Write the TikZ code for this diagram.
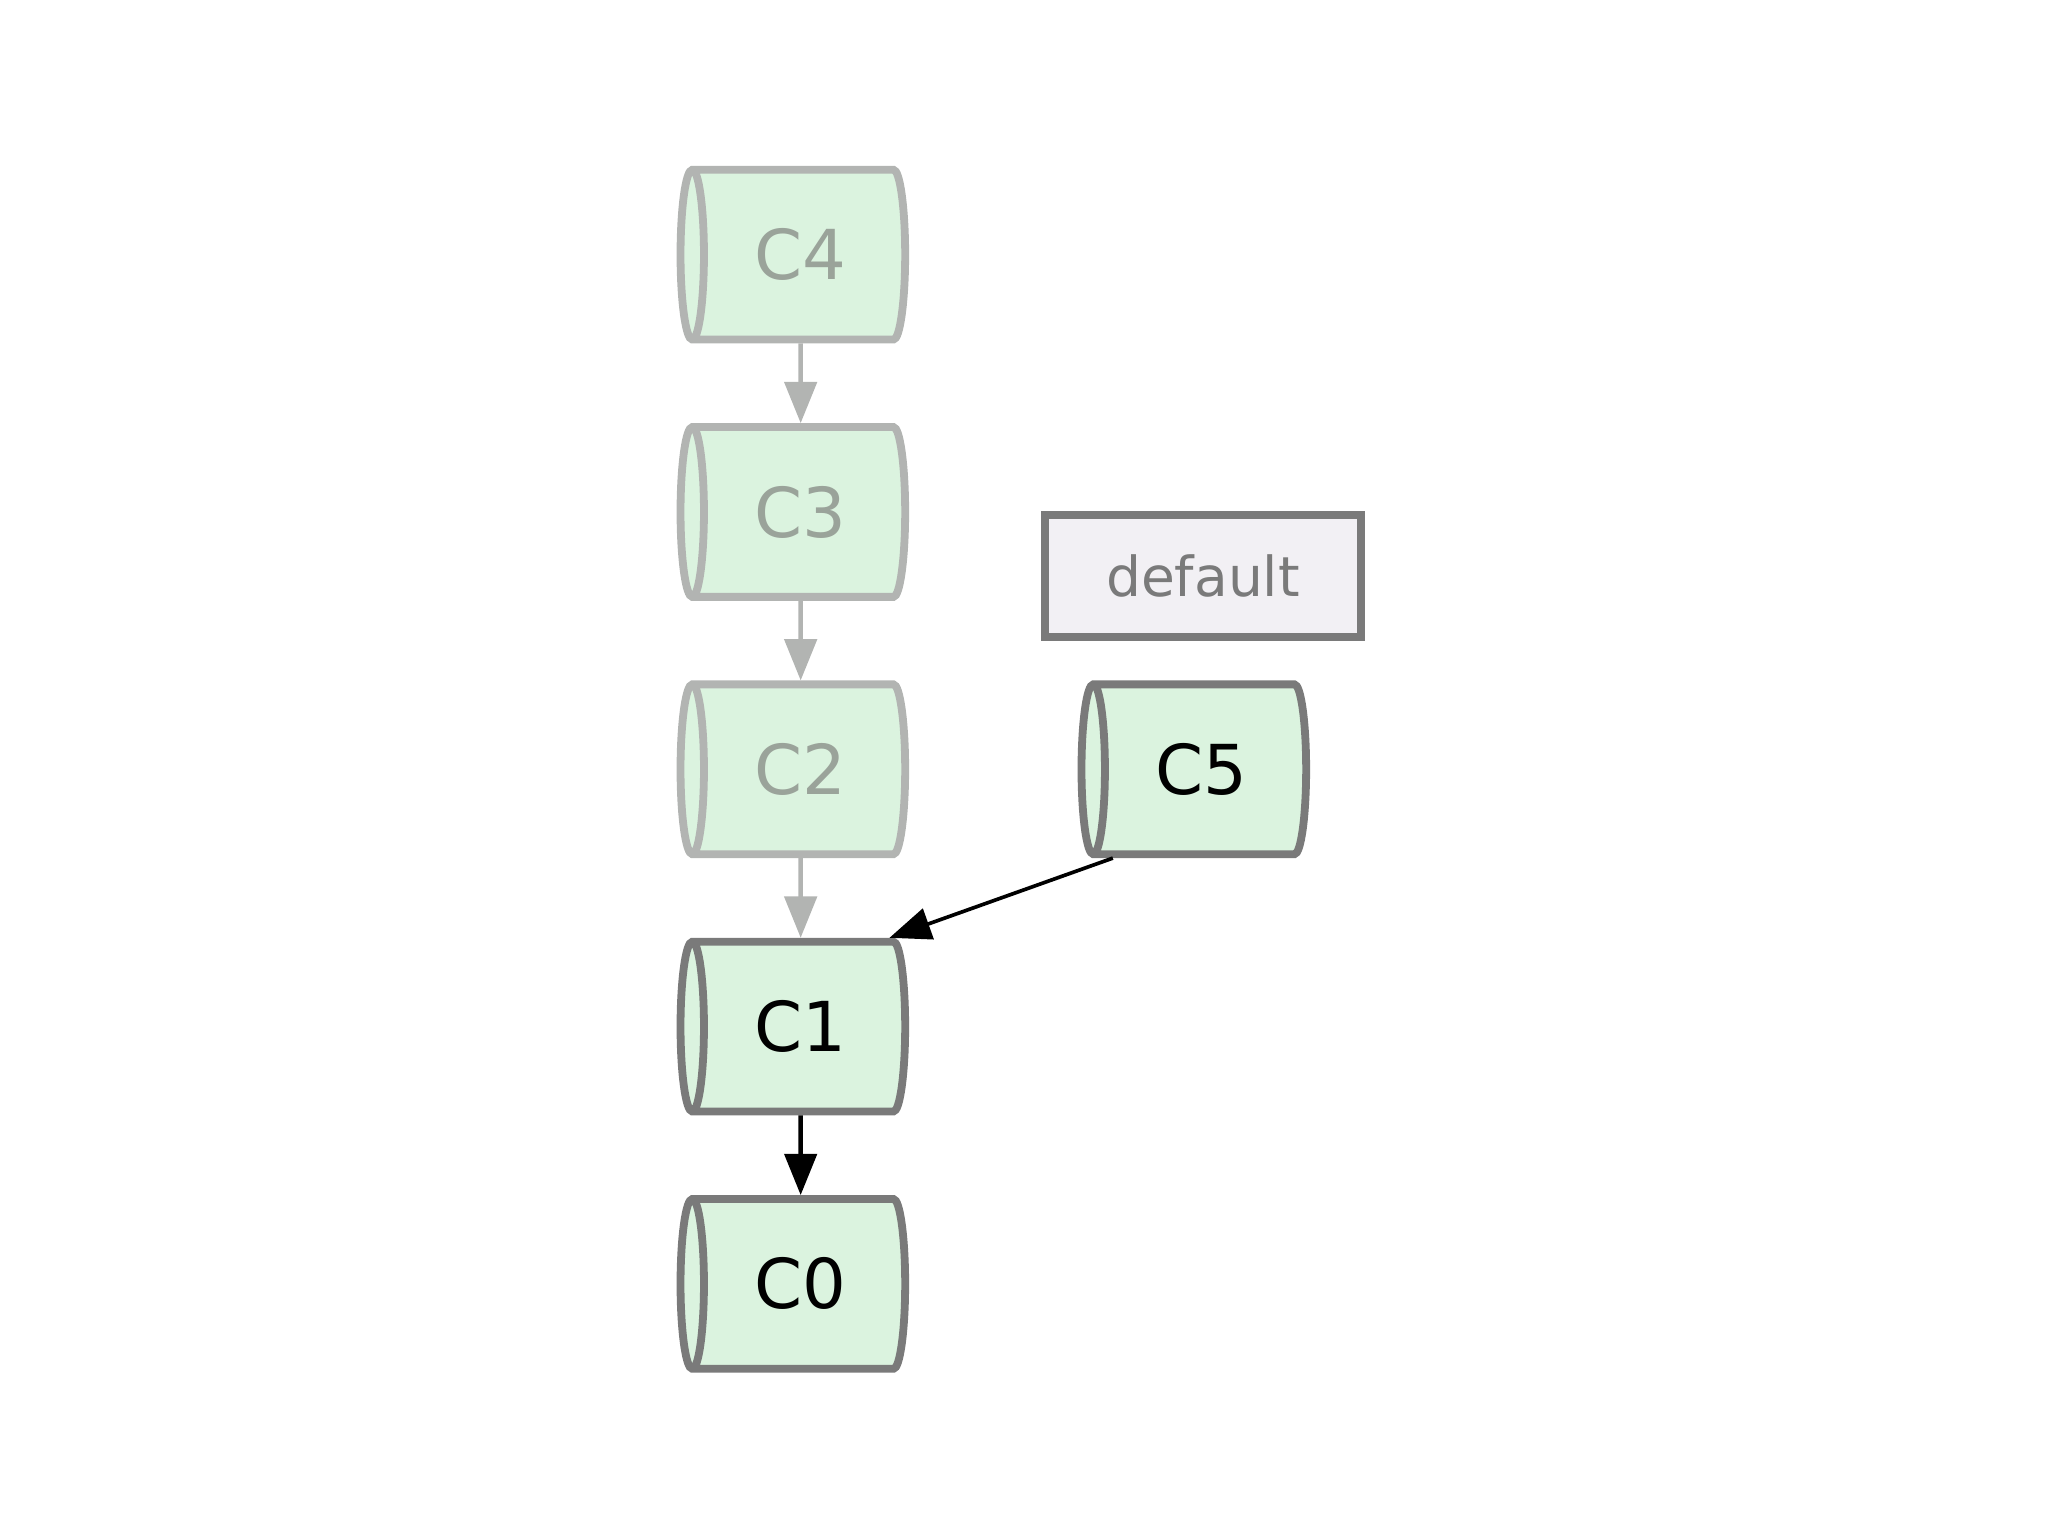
\documentclass[tikz,border=0pt]{standalone}
\usepackage{fontspec}
\setmainfont{DejaVu Sans}
\usetikzlibrary{shapes.geometric, arrows.meta}
\definecolor{commitfill}{HTML}{DBF3DF}
\definecolor{darkline}{HTML}{7A7A7A}
\definecolor{lightline}{HTML}{B2B4B2}
\definecolor{fadetext}{HTML}{9AA39A}
\definecolor{branchfill}{HTML}{F2F0F4}

\begin{document}
\begin{tikzpicture}
% Define styles
\tikzstyle{commit} = [cylinder, shape border rotate=180, shape aspect=0.45, draw=darkline, line width=1.7pt, fill=commitfill, minimum width=1.3cm, minimum height=1.72cm, font=\fontsize{15}{18}\selectfont, inner sep=0pt]
\tikzstyle{faded} = [commit, draw=lightline, text=fadetext]
\tikzstyle{branch} = [rectangle, draw=darkline, line width=1.7pt, fill=branchfill, minimum width=2.42cm, minimum height=0.93cm, text=darkline, font=\fontsize{12}{14}\selectfont]
\useasboundingbox (0,0) rectangle (15.68,-11.76);
% Define nodes
\node[faded] (c4) at (6.13,-1.95) {C4};
\node[faded] (c3) at (6.13,-3.92) {C3};
\node[faded] (c2) at (6.13,-5.89) {C2};
\node[commit] (c1) at (6.13,-7.86) {C1};
\node[commit] (c0) at (6.13,-9.83) {C0};
\node[commit] (c5) at (9.20,-5.89) {C5};
\node[branch] (default) at (9.21,-4.41) {default};
% Connect the nodes
\draw[-{Triangle[length=9pt,width=7pt]}, lightline, line width=1pt] (c4) -- (c3);
\draw[-{Triangle[length=9pt,width=7pt]}, lightline, line width=1pt] (c3) -- (c2);
\draw[-{Triangle[length=9pt,width=7pt]}, lightline, line width=1pt] (c2) -- (c1);
\draw[-{Triangle[length=9pt,width=7pt]}, line width=1pt] (c1) -- (c0);
\draw[-{Triangle[length=9pt,width=7pt]}, line width=0.8pt] (c5.south west) -- (c1.north east);
\end{tikzpicture}
\end{document}
